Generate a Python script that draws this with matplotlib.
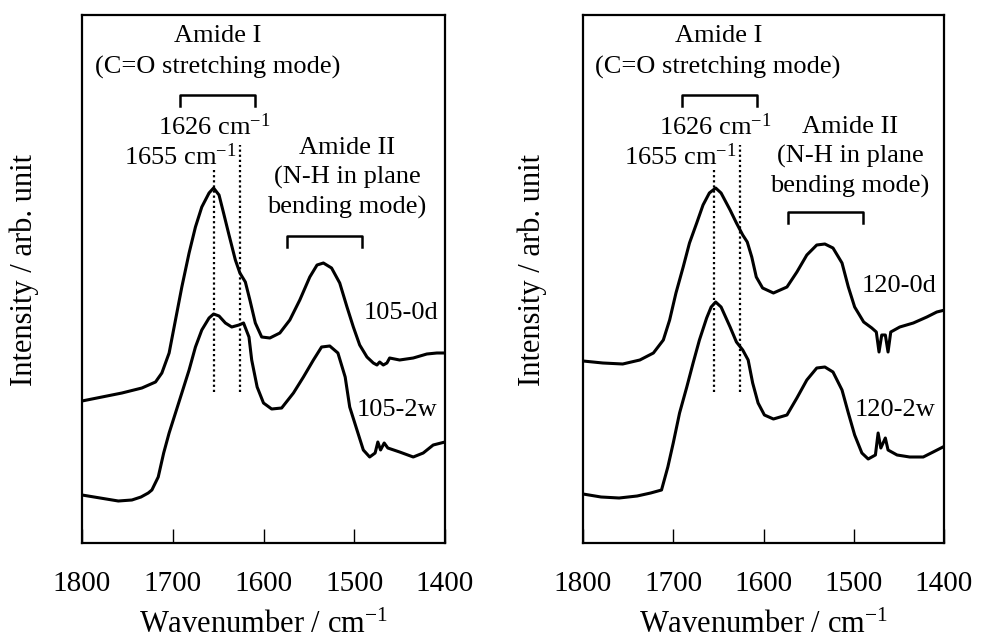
import matplotlib
matplotlib.use("Agg")
import matplotlib.pyplot as plt

plt.rcParams['font.family'] = ['Liberation Serif', 'DejaVu Serif']
plt.rcParams['mathtext.fontset'] = 'custom'
plt.rcParams['mathtext.rm'] = 'Liberation Serif'
plt.rcParams['mathtext.it'] = 'Liberation Serif:italic'

# spectra (arbitrary intensity units)
wn_105_0d = [1800, 1778, 1756, 1734, 1719, 1712, 1704, 1697, 1690, 1682, 1675, 1668, 1660, 1655,
             1649, 1644, 1638, 1631, 1626, 1620, 1615, 1609, 1602, 1593, 1582, 1571, 1560, 1549,
             1541, 1534, 1525, 1516, 1508, 1501, 1494, 1486, 1479, 1475, 1472, 1468, 1464, 1461,
             1450, 1435, 1420, 1409, 1400]
int_105_0d = [142, 146, 150, 155, 161, 170, 190, 223, 256, 290, 316, 336, 350, 355,
              348, 330, 308, 283, 270, 261, 243, 220, 206, 205, 210, 223, 243, 266,
              278, 280, 275, 260, 236, 216, 198, 186, 180, 178, 181, 178, 180, 185,
              183, 185, 189, 190, 190]

wn_105_2w = [1800, 1780, 1760, 1745, 1735, 1727, 1723, 1716, 1710, 1704, 1697, 1690, 1682, 1675,
             1668, 1660, 1655, 1649, 1642, 1635, 1627, 1622, 1616, 1613, 1607, 1600, 1591, 1580,
             1567, 1556, 1545, 1536, 1527, 1518, 1510, 1505, 1497, 1490, 1483, 1477, 1474, 1471,
             1467, 1463, 1450, 1435, 1424, 1413, 1400]
int_105_2w = [48, 45, 42, 43, 46, 50, 53, 66, 90, 110, 130, 150, 173, 196,
              213, 225, 229, 227, 220, 216, 218, 220, 206, 183, 156, 140, 134, 135,
              150, 166, 183, 196, 197, 190, 166, 136, 113, 93, 86, 90, 101, 93,
              100, 95, 91, 86, 90, 98, 101]

wn_120_0d = [1800, 1778, 1756, 1737, 1722, 1711, 1704, 1697, 1689, 1682, 1674, 1667, 1660, 1653,
             1647, 1637, 1630, 1623, 1618, 1613, 1608, 1601, 1589, 1574, 1563, 1552, 1541, 1532,
             1523, 1513, 1506, 1499, 1489, 1480, 1475, 1472, 1469, 1465, 1462, 1459, 1449, 1434,
             1419, 1408, 1399]
int_120_0d = [182, 180, 179, 183, 190, 203, 223, 250, 276, 300, 320, 338, 350, 355,
              350, 333, 320, 308, 301, 286, 266, 255, 250, 256, 271, 288, 298, 299,
              295, 280, 256, 236, 221, 215, 211, 191, 208, 208, 191, 211, 216, 220,
              226, 231, 233]

wn_120_2w = [1800, 1780, 1760, 1740, 1725, 1713, 1706, 1700, 1693, 1685, 1678, 1671, 1663, 1658,
             1653, 1647, 1637, 1630, 1623, 1617, 1612, 1606, 1599, 1589, 1574, 1563, 1552, 1541,
             1532, 1523, 1513, 1506, 1499, 1491, 1484, 1476, 1473, 1470, 1465, 1462, 1452, 1438,
             1423, 1412, 1399]
int_120_2w = [49, 46, 45, 47, 50, 53, 76, 100, 130, 156, 180, 203, 225, 236,
              241, 236, 216, 201, 193, 183, 160, 140, 128, 124, 128, 145, 163, 175,
              176, 171, 153, 130, 108, 90, 84, 88, 110, 95, 105, 93, 88, 86,
              86, 91, 97]

peak_lines = [1655, 1626]
xticks = [1800, 1700, 1600, 1500, 1400]

panels = [
    dict(rect=[82/981, 97/640, 363/981, 528/640], ylab_x=-0.119,
         curves=[(wn_105_0d, int_105_0d), (wn_105_2w, int_105_2w)],
         names=['105-0d', '105-2w'], name_pos=[(1490, 230), (1497, 133)],
         amide1=(1692, 1609), amide2=(1574, 1491, 307), amide2_text=(1508, 365)),
    dict(rect=[583/981, 97/640, 361/981, 528/640], ylab_x=-0.10,
         curves=[(wn_120_0d, int_120_0d), (wn_120_2w, int_120_2w)],
         names=['120-0d', '120-2w'], name_pos=[(1491, 257), (1499, 133)],
         amide1=(1690, 1607), amide2=(1573, 1490, 331), amide2_text=(1504, 386)),
]

fig = plt.figure(figsize=(9.81, 6.4), dpi=100)

for p in panels:
    ax = fig.add_axes(p['rect'])
    for wn, it in p['curves']:
        ax.plot(wn, it, color='black', lw=2.2, solid_joinstyle='round')
    for x in peak_lines:
        top = 373 if x == 1655 else 398
        ax.plot([x, x], [151, top], color='black', lw=1.6, ls=(0, (1, 1.3)))

    # Amide I bracket
    a, b = p['amide1']
    ax.plot([a, a, b, b], [437, 448, 448, 437], color='black', lw=1.8)
    # Amide II bracket
    a, b, h = p['amide2']
    ax.plot([a, a, b, b], [h - 11, h, h, h - 11], color='black', lw=1.8)

    ax.text(1650, 507, 'Amide I', ha='center', va='center', fontsize=19)
    ax.text(1651, 476, '(C=O stretching mode)', ha='center', va='center', fontsize=19)
    ax.text(1654, 416, '1626 cm$^{-1}$', ha='center', va='center', fontsize=19)
    ax.text(1692, 386, '1655 cm$^{-1}$', ha='center', va='center', fontsize=19)
    tx, ty = p['amide2_text']
    ax.text(tx, ty, 'Amide II\n(N-H in plane\nbending mode)', ha='center', va='center',
            fontsize=19, linespacing=1.4)
    for name, (nx, ny) in zip(p['names'], p['name_pos']):
        ax.text(nx, ny, name, ha='left', va='center', fontsize=19)

    ax.set_xlim(1800, 1400)
    ax.set_ylim(0, 528)
    ax.set_xticks(xticks)
    ax.set_yticks([])
    ax.tick_params(axis='x', direction='in', length=10, width=1.0, pad=20, labelsize=21)
    for s in ax.spines.values():
        s.set_linewidth(1.6)
    ax.set_xlabel('Wavenumber / cm$^{-1}$', fontsize=22, labelpad=10)
    ax.set_ylabel('Intensity / arb. unit', fontsize=22)
    ax.yaxis.set_label_coords(p['ylab_x'], 0.517)

fig.savefig('out.png', dpi=100)
